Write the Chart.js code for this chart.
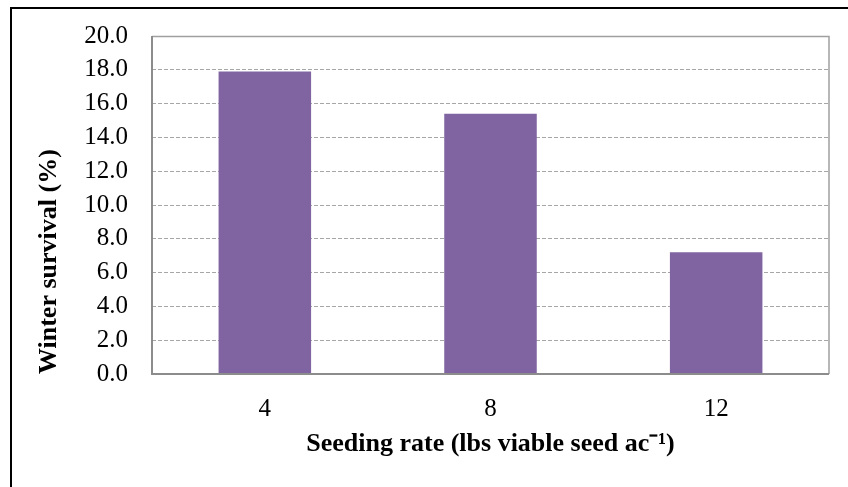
<!DOCTYPE html>
<html>
<head>
<meta charset="utf-8">
<script src="https://cdn.jsdelivr.net/npm/chart.js@4/dist/chart.umd.min.js"></script>
<style>
  html, body { margin: 0; padding: 0; background: #fff; overflow: hidden; }
  #frame { position: absolute; left: 10px; top: 7px; width: 900px; height: 600px; border: 2px solid #000; }
  #wrap { position: absolute; left: 0; top: 0; width: 848px; height: 487px; }
</style>
</head>
<body>
<div id="frame"></div>
<div id="wrap"><canvas id="chart" width="848" height="487"></canvas></div>
<script>
const categories = ['4', '8', '12'];
const survival = [17.9, 15.4, 7.2];
const yTicks = [0, 2, 4, 6, 8, 10, 12, 14, 16, 18, 20];

const serif = "'Liberation Serif', 'Times New Roman', serif";

// solid grey box round the plot area
const plotBox = {
  id: 'plotBox',
  afterDatasetsDraw(chart) {
    const a = chart.chartArea, c = chart.ctx;
    c.save();
    c.strokeStyle = '#a0a0a0';
    c.lineWidth = 1.5;
    c.beginPath();
    c.moveTo(a.left, a.top + 0.5); c.lineTo(a.right, a.top + 0.5); c.lineTo(a.right, a.bottom);
    c.stroke();
    c.strokeStyle = '#8c8c8c';
    c.lineWidth = 2;
    c.beginPath();
    c.moveTo(a.left, a.top); c.lineTo(a.left, a.bottom); c.lineTo(a.right, a.bottom);
    c.stroke();
    c.restore();
  }
};

new Chart(document.getElementById('chart').getContext('2d'), {
  type: 'bar',
  data: {
    labels: categories,
    datasets: [{ data: survival, backgroundColor: '#8064A2', borderWidth: 0, barPercentage: 0.41, categoryPercentage: 1 }]
  },
  options: {
    responsive: false,
    animation: false,
    devicePixelRatio: 1,
    layout: { padding: { top: 36, right: 19, left: 0, bottom: 0 } },
    plugins: { legend: { display: false }, tooltip: { enabled: false } },
    scales: {
      x: {
        grid: { display: false, drawTicks: false },
        border: { display: false },
        ticks: { color: '#000', padding: 20, font: { family: serif, size: 25 } },
        title: { display: true, text: 'Seeding rate (lbs viable seed ac⁻¹)', color: '#000',
                 padding: { top: 0, bottom: 27 }, font: { family: serif, size: 26, weight: 'bold' } },
        afterFit(s) { s.height = 113; }
      },
      y: {
        min: 0, max: 20,
        afterBuildTicks(s) { s.ticks = yTicks.map(v => ({ value: v })); },
        grid: { color: '#a6a6a6', lineWidth: 1, drawTicks: false },
        border: { display: false, dash: [4, 2] },
        ticks: { color: '#000', padding: 24, font: { family: serif, size: 25 },
                 callback: v => Number(v).toFixed(1) },
        title: { display: true, text: 'Winter survival (%)', color: '#000', align: 'start',
                 padding: { top: 34, bottom: 0 }, font: { family: serif, size: 26, weight: 'bold' } },
        afterFit(s) { s.width = 152; s.paddingTop = 0; s.paddingBottom = 0; }
      }
    }
  },
  plugins: [plotBox]
});
</script>
</body>
</html>
